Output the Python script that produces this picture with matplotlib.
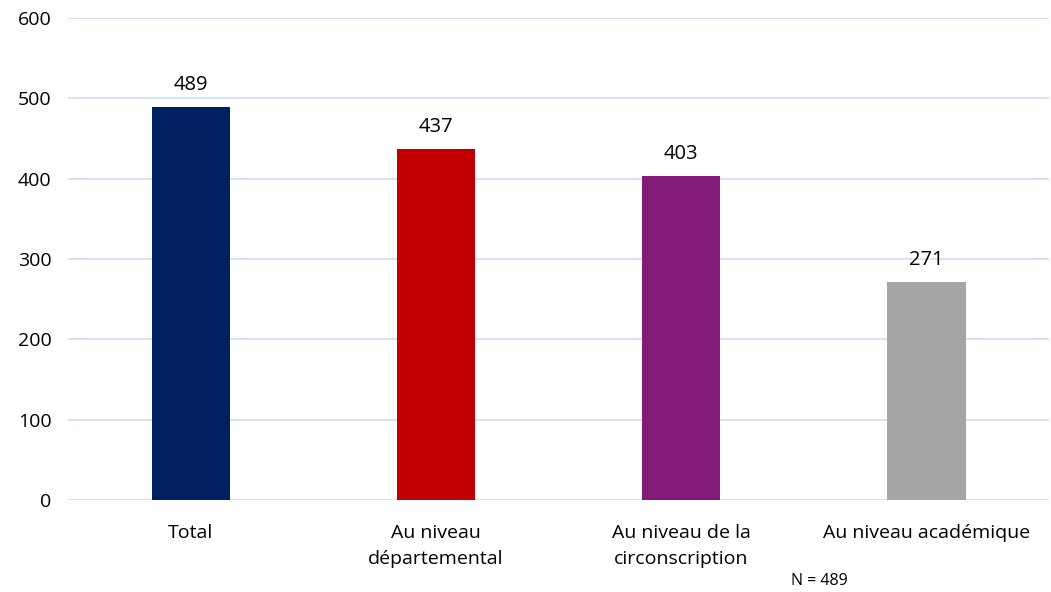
import matplotlib.pyplot as plt

categories = ["Total", "Au niveau\ndépartemental", "Au niveau de la\ncirconscription", "Au niveau académique"]
values = [489, 437, 403, 271]
colors = ["#002060", "#C00000", "#821A78", "#A6A6A6"]
yticks = [0, 100, 200, 300, 400, 500, 600]

plt.rcParams["font.family"] = ["Open Sans", "DejaVu Sans"]

fig = plt.figure(figsize=(10.51, 5.92), dpi=100)
ax = fig.add_axes([0.065, 0.155, 0.933, 0.815])

x = range(len(categories))
bars = ax.bar(x, values, width=0.32, color=colors, zorder=3)

for b, v in zip(bars, values):
    ax.text(b.get_x() + b.get_width() / 2, v + 15, str(v),
            ha="center", va="bottom", fontsize=14.5)

ax.set_xlim(-0.5, 3.5)
ax.set_ylim(0, 600)
ax.set_yticks(yticks)
ax.set_xticks(list(x))
ax.set_xticklabels(categories, fontsize=14, linespacing=1.55)
ax.tick_params(axis="y", labelsize=14, length=0, pad=12)
ax.tick_params(axis="x", length=0, pad=17)

ax.grid(axis="y", color="#D3E0F5", linewidth=1.3, zorder=0)
for s in ax.spines.values():
    s.set_visible(False)

fig.text(0.78, 0.005, "N = 489", fontsize=11.5, va="bottom", ha="center")

fig.savefig("out.png", dpi=100)
